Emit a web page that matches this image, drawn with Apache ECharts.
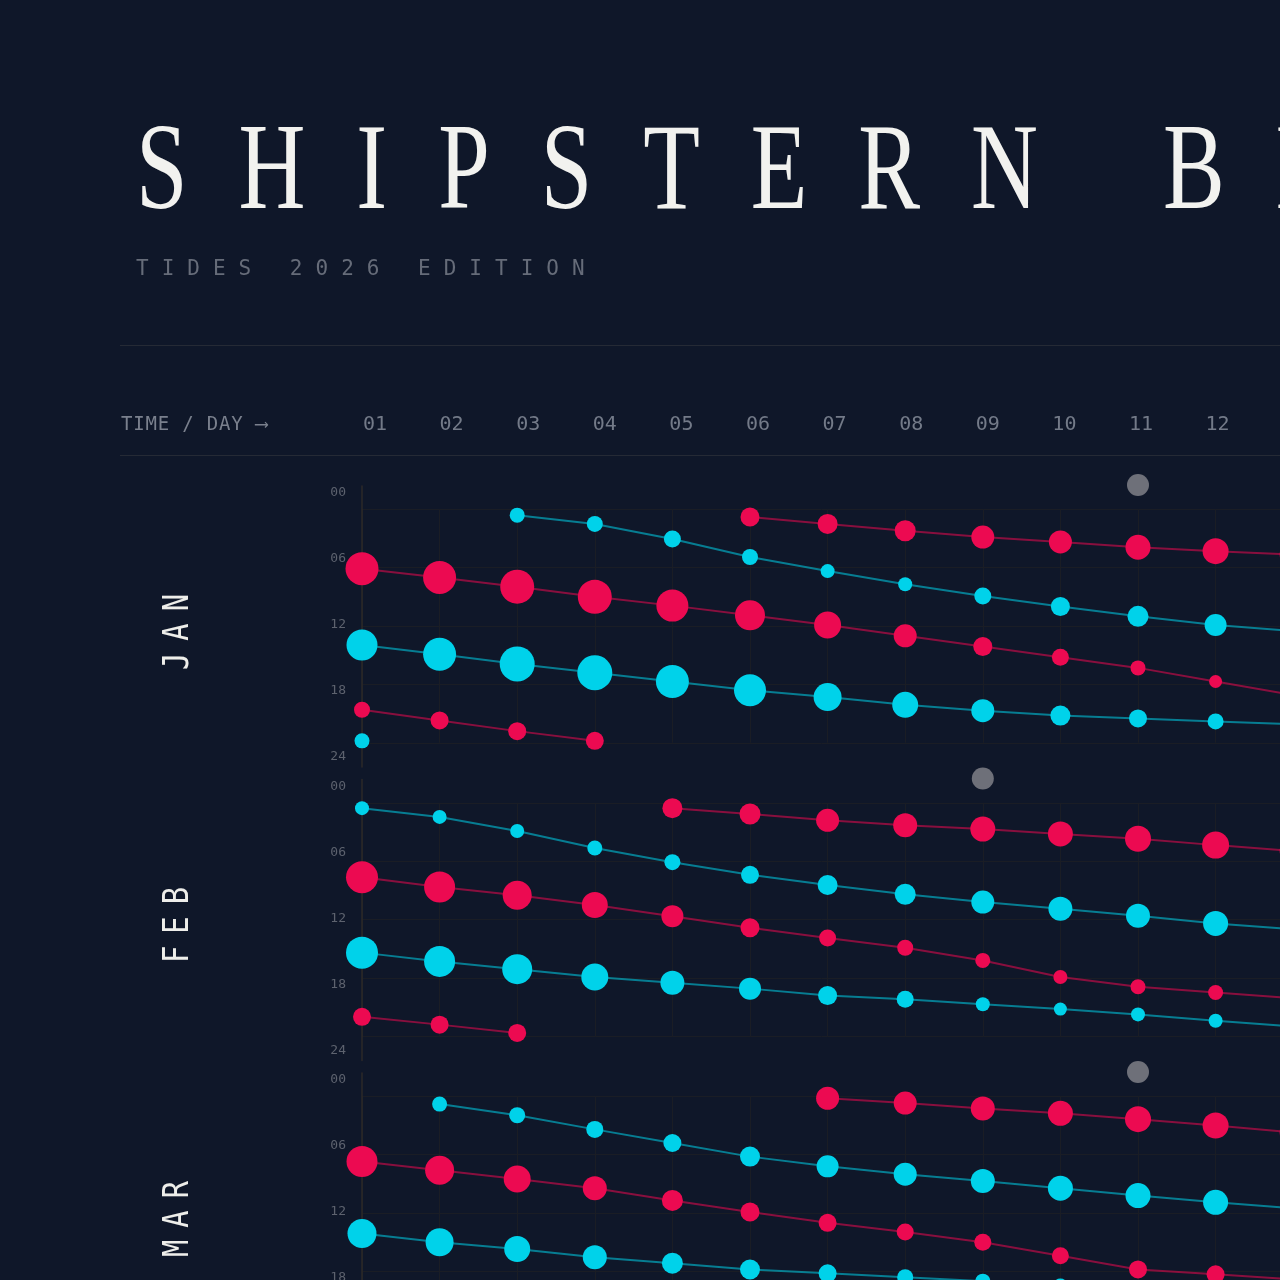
<!DOCTYPE html>
<html>
<head>
<meta charset="utf-8">
<script src="https://cdn.jsdelivr.net/npm/echarts@6.0.0/dist/echarts.min.js"></script>
<style>
  html, body { margin: 0; padding: 0; background: #0f1729; }
  #page { position: relative; width: 1280px; height: 1280px; overflow: hidden; background: #0f1729; }
  #chart { position: absolute; left: 0; top: 0; width: 1280px; height: 1280px; }
  .title {
    position: absolute; left: 136px; top: 106px; white-space: nowrap;
    font-family: "Liberation Serif", serif; font-size: 122px; line-height: 122px;
    letter-spacing: 67px; color: #f2f2ef;
    transform: scaleX(0.76); transform-origin: 0 0;
  }
  .subtitle {
    position: absolute; left: 136px; top: 258px; white-space: nowrap;
    font-family: "DejaVu Sans Mono", monospace; font-size: 21px; line-height: 21px;
    letter-spacing: 13px; color: #666c79;
  }
  .rule { position: absolute; left: 120px; right: 0; height: 1px; background: #252a35; }
  .axis-title {
    position: absolute; left: 121px; top: 414px; white-space: nowrap;
    font-family: "DejaVu Sans Mono", monospace; font-size: 19px; line-height: 19px;
    letter-spacing: 0.8px; color: #7a808d;
  }
  .month {
    position: absolute; left: 176px; white-space: nowrap;
    font-family: "DejaVu Sans Mono", monospace; font-size: 36px; line-height: 36px;
    letter-spacing: 15px; color: #eeeeea;
    transform: translate(-50%, -50%) rotate(-90deg) scaleX(0.8);
  }
</style>
</head>
<body>
<div id="page">
  <div id="chart"></div>
  <div class="title">SHIPSTERN BLUFF</div>
  <div class="subtitle">TIDES 2026 EDITION</div>
  <div class="rule" style="top:345px"></div>
  <div class="axis-title">TIME / DAY ⟶</div>
  <div class="rule" style="top:455px"></div>
  <div class="month" style="top:626px">JAN</div>
  <div class="month" style="top:919px">FEB</div>
  <div class="month" style="top:1213px">MAR</div>
</div>
<script>
// 表头 / 刻度
var DAYS = ['01','02','03','04','05','06','07','08','09','10','11','12','13'];
var HOURS = ['00','06','12','18','24'];

// 每条潮汐线: [日, 时刻(小时), 潮高(m)]
// JAN
var janHighEarly = [[6,0.8,1.9],[7,1.5,2.0],[8,2.2,2.1],[9,2.85,2.3],[10,3.35,2.3],[11,3.9,2.5],[12,4.3,2.6],[13,4.65,2.7]];
var janLowEarly = [[3,0.6,1.5],[4,1.5,1.6],[5,3.05,1.7],[6,4.9,1.6],[7,6.35,1.4],[8,7.7,1.4],[9,8.9,1.7],[10,10.0,1.9],[11,11.0,2.1],[12,11.9,2.2],[13,12.5,2.3]];
var janHighMid = [[1,6.1,3.3],[2,7.0,3.3],[3,7.95,3.4],[4,9.0,3.4],[5,9.9,3.2],[6,10.9,3.0],[7,11.9,2.7],[8,13.0,2.3],[9,14.1,1.9],[10,15.2,1.7],[11,16.3,1.5],[12,17.7,1.3],[13,19.1,1.2]];
var janLowMid = [[1,13.95,3.1],[2,14.9,3.3],[3,15.9,3.5],[4,16.8,3.5],[5,17.7,3.3],[6,18.6,3.2],[7,19.3,2.8],[8,20.1,2.6],[9,20.7,2.3],[10,21.2,2.0],[11,21.5,1.8],[12,21.8,1.6],[13,22.1,1.5]];
var janHighLate = [[1,20.6,1.6],[2,21.7,1.8],[3,22.8,1.8],[4,23.8,1.8]];
var janLowLate = [[1,23.8,1.5]];
// FEB
var febHighEarly = [[5,0.55,2.0],[6,1.15,2.1],[7,1.8,2.3],[8,2.3,2.4],[9,2.7,2.5],[10,3.2,2.5],[11,3.7,2.6],[12,4.35,2.7],[13,4.95,2.7]];
var febLowEarly = [[1,0.55,1.4],[2,1.45,1.4],[3,2.9,1.4],[4,4.65,1.5],[5,6.1,1.6],[6,7.4,1.8],[7,8.45,2.0],[8,9.4,2.1],[9,10.2,2.3],[10,10.9,2.4],[11,11.6,2.4],[12,12.4,2.5],[13,13.0,2.5]];
var febHighMid = [[1,7.65,3.2],[2,8.65,3.1],[3,9.5,2.9],[4,10.5,2.6],[5,11.65,2.2],[6,12.85,1.9],[7,13.9,1.7],[8,14.9,1.6],[9,16.2,1.5],[10,17.9,1.4],[11,18.9,1.5],[12,19.5,1.5],[13,20.1,1.6]];
var febLowMid = [[1,15.4,3.2],[2,16.3,3.1],[3,17.1,3.0],[4,17.9,2.7],[5,18.5,2.4],[6,19.1,2.2],[7,19.8,1.9],[8,20.2,1.7],[9,20.7,1.4],[10,21.2,1.3],[11,21.75,1.4],[12,22.4,1.4],[13,23.0,1.4]];
var febHighLate = [[1,22.0,1.8],[2,22.8,1.8],[3,23.65,1.8]];
// MAR
var marHighEarly = [[7,0.2,2.3],[8,0.7,2.3],[9,1.25,2.4],[10,1.75,2.5],[11,2.35,2.6],[12,3.0,2.6],[13,3.7,2.7]];
var marLowEarly = [[2,0.8,1.5],[3,1.95,1.6],[4,3.4,1.7],[5,4.8,1.8],[6,6.2,2.0],[7,7.2,2.2],[8,8.0,2.3],[9,8.7,2.4],[10,9.45,2.5],[11,10.2,2.5],[12,10.9,2.5],[13,11.5,2.5]];
var marHighMid = [[1,6.7,3.1],[2,7.6,2.9],[3,8.5,2.7],[4,9.45,2.4],[5,10.7,2.1],[6,11.9,1.9],[7,13.0,1.8],[8,13.95,1.7],[9,15.0,1.7],[10,16.4,1.7],[11,17.8,1.8],[12,18.3,1.8],[13,18.8,1.9]];
var marLowMid = [[1,14.1,2.9],[2,15.0,2.8],[3,15.7,2.6],[4,16.55,2.4],[5,17.15,2.1],[6,17.8,2.0],[7,18.2,1.8],[8,18.6,1.6],[9,19.0,1.5],[10,19.5,1.5],[11,20.0,1.5],[12,20.6,1.6],[13,21.2,1.6]];
// 月相标记所在日
var moonDays = [11, 9, 11];

var HIGH_C = '#ec0a51';
var LOW_C = '#00d2ea';
var MOON_C = '#6e7079';
var GRID_C = '#1a1d25';
var AXIS_C = '#2d2a29';
var LABEL_C = '#5d626e';
var MONO = '"DejaVu Sans Mono", monospace';

var COL_LEFT = 362, COL_W = 77.6;
var HEAD_LEFT = 375, HEAD_W = 76.6; // 表头日期列
var PANEL_TOP = 509.3, PANEL_STEP = 293.5, PANEL_H = 233.5;
var MOON_ROW = -2.5; // 面板上方一行

var months = [
    { high: [janHighEarly, janHighMid, janHighLate], low: [janLowEarly, janLowMid, janLowLate] },
    { high: [febHighEarly, febHighMid, febHighLate], low: [febLowEarly, febLowMid] },
    { high: [marHighEarly, marHighMid], low: [marLowEarly, marLowMid] }
];

var gridW = COL_W * (DAYS.length - 1);
var grid = [], xAxis = [], yAxis = [], series = [];

function tideLine(data, color, idx){
    return {
        type: 'line',
        xAxisIndex: idx,
        yAxisIndex: idx,
        data: data,
        symbol: 'circle',
        showSymbol: true,
        showAllSymbol: true,
        symbolSize: function (v) { return v[2] * 10; },
        itemStyle: { color: color, opacity: 1 },
        lineStyle: { color: color, width: 2, opacity: 0.55 },
        emphasis: { disabled: true },
        clip: false,
        silent: true,
        z: 3
    };
}

function makeGrid(left, top, width, height){
    return { left: left, top: top, width: width, height: height, outerBoundsMode: 'none', containLabel: false };
}

// 数据面板
months.forEach(function (mo, m) {
    grid.push(makeGrid(COL_LEFT, PANEL_TOP + m * PANEL_STEP, gridW, PANEL_H));
    xAxis.push({
        type: 'value', gridIndex: m, min: 1, max: DAYS.length, interval: 1,
        axisLine: { show: false }, axisTick: { show: false }, axisLabel: { show: false },
        splitLine: { show: true, lineStyle: { color: GRID_C, width: 1 } }
    });
    yAxis.push({
        type: 'value', gridIndex: m, inverse: true, min: 0, max: 24, interval: 6,
        axisLine: { show: false }, axisTick: { show: false }, axisLabel: { show: false },
        splitLine: { show: true, lineStyle: { color: GRID_C, width: 1 } }
    });
    mo.high.forEach(function (d) { series.push(tideLine(d, HIGH_C, m)); });
    mo.low.forEach(function (d) { series.push(tideLine(d, LOW_C, m)); });
    series.push({
        type: 'scatter', xAxisIndex: m, yAxisIndex: m,
        data: [[moonDays[m], MOON_ROW]],
        symbolSize: 22, itemStyle: { color: MOON_C, opacity: 1 },
        clip: false, silent: true, z: 3
    });
});

// 时刻刻度 (00 - 24)
months.forEach(function (mo, m) {
    var gi = months.length + m;
    grid.push(makeGrid(COL_LEFT, 486 + m * PANEL_STEP, gridW, 281));
    xAxis.push({ type: 'value', gridIndex: gi, min: 1, max: DAYS.length, show: false });
    yAxis.push({
        type: 'value', gridIndex: gi, inverse: true, min: -0.636, max: 24.909,
        axisLine: { show: true, lineStyle: { color: AXIS_C, width: 1.5 } },
        axisTick: { show: false },
        splitLine: { show: false },
        axisLabel: {
            customValues: [0, 6, 12, 18, 24],
            formatter: function (v) { return HOURS[Math.round(v / 6)]; },
            margin: 16, color: LABEL_C, fontSize: 13, fontFamily: MONO
        }
    });
});

// 日期表头
var hi = months.length * 2;
grid.push(makeGrid(HEAD_LEFT, 424, HEAD_W * (DAYS.length - 1), 1));
xAxis.push({
    type: 'value', gridIndex: hi, min: 1, max: DAYS.length, interval: 1,
    axisLine: { show: false }, axisTick: { show: false }, splitLine: { show: false },
    axisLabel: {
        margin: 0, verticalAlign: 'middle',
        color: '#737a88', fontSize: 20, fontFamily: MONO,
        formatter: function (v) { return DAYS[v - 1] || ''; }
    }
});
yAxis.push({ type: 'value', gridIndex: hi, show: false });

var chart = echarts.init(document.getElementById('chart'), null, { renderer: 'canvas' });
chart.setOption({
    backgroundColor: 'transparent',
    animation: false,
    grid: grid,
    xAxis: xAxis,
    yAxis: yAxis,
    series: series
});
</script>
</body>
</html>
